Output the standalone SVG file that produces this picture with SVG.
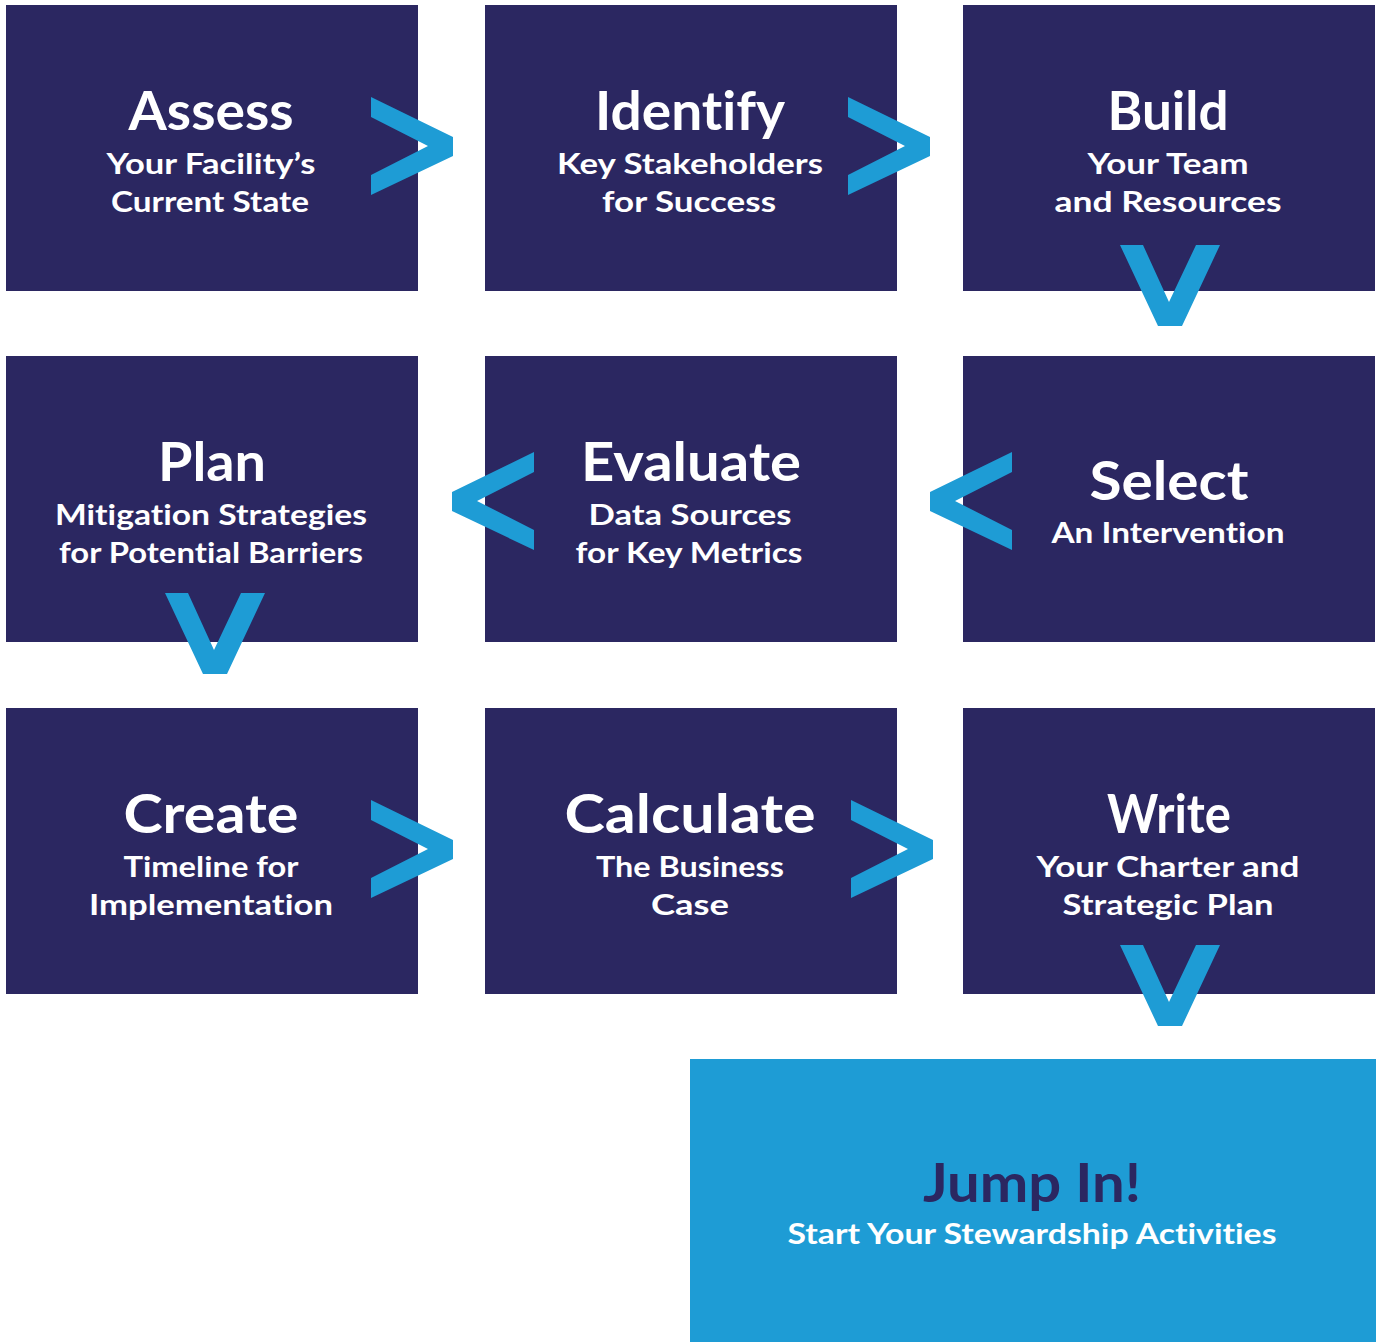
<svg xmlns="http://www.w3.org/2000/svg" xmlns:xlink="http://www.w3.org/1999/xlink" width="1376" height="1342" viewBox="0 0 1376 1342">
<style>
.box{fill:#2b2761}
.jump{fill:#1e9cd5}
.chev{fill:#1e9cd5}
text{font-family:Lato,"Liberation Sans",sans-serif;font-weight:bold;text-anchor:middle;font-variant-ligatures:none;font-feature-settings:"liga" 0,"dlig" 0}
.t{font-size:53px;fill:#ffffff}
.s{font-size:28px;fill:#ffffff}
.jt{font-size:54px;fill:#2b2761}
.js{font-size:29px;fill:#ffffff}
</style>
<defs>
<polygon id="chev-r" class="chev" points="0,0 82,40 82,59 0,98 0,78 57,49 0,20"/>
<polygon id="chev-l" class="chev" points="82,0 0,40 0,59 82,98 82,78 25,49 82,20"/>
<polygon id="chev-d" class="chev" points="0,0 23,0 49,57 76,0 100,0 62,81 38,81"/>
</defs>
<rect width="1376" height="1342" fill="#ffffff"/>
<g id="assess"><rect class="box" x="6" y="5" width="412" height="286"/>
<text class="t" x="211" y="130" textLength="165" lengthAdjust="spacingAndGlyphs">Assess</text>
<text class="s" x="211" y="174" textLength="209" lengthAdjust="spacingAndGlyphs">Your Facility’s</text>
<text class="s" x="210" y="212" textLength="198" lengthAdjust="spacingAndGlyphs">Current State</text></g>
<g id="identify"><rect class="box" x="485" y="5" width="412" height="286"/>
<text class="t" x="690" y="130" textLength="190" lengthAdjust="spacingAndGlyphs">Identify</text>
<text class="s" x="690" y="174" textLength="266" lengthAdjust="spacingAndGlyphs">Key Stakeholders</text>
<text class="s" x="689" y="212" textLength="174" lengthAdjust="spacingAndGlyphs">for Success</text></g>
<g id="build"><rect class="box" x="963" y="5" width="412" height="286"/>
<text class="t" x="1168" y="130" textLength="121" lengthAdjust="spacingAndGlyphs">Build</text>
<text class="s" x="1168" y="174" textLength="161" lengthAdjust="spacingAndGlyphs">Your Team</text>
<text class="s" x="1168" y="212" textLength="227" lengthAdjust="spacingAndGlyphs">and Resources</text></g>
<g id="plan"><rect class="box" x="6" y="356" width="412" height="286"/>
<text class="t" x="212" y="481" textLength="108" lengthAdjust="spacingAndGlyphs">Plan</text>
<text class="s" x="211" y="525" textLength="312" lengthAdjust="spacingAndGlyphs">Mitigation Strategies</text>
<text class="s" x="211" y="563" textLength="304" lengthAdjust="spacingAndGlyphs">for Potential Barriers</text></g>
<g id="evaluate"><rect class="box" x="485" y="356" width="412" height="286"/>
<text class="t" x="691" y="481" textLength="220" lengthAdjust="spacingAndGlyphs">Evaluate</text>
<text class="s" x="690" y="525" textLength="203" lengthAdjust="spacingAndGlyphs">Data Sources</text>
<text class="s" x="689" y="563" textLength="227" lengthAdjust="spacingAndGlyphs">for Key Metrics</text></g>
<g id="select"><rect class="box" x="963" y="356" width="412" height="286"/>
<text class="t" x="1169" y="500" textLength="159" lengthAdjust="spacingAndGlyphs">Select</text>
<text class="s" x="1168" y="543" textLength="233" lengthAdjust="spacingAndGlyphs">An Intervention</text></g>
<g id="create"><rect class="box" x="6" y="708" width="412" height="286"/>
<text class="t" x="211" y="833" textLength="175" lengthAdjust="spacingAndGlyphs">Create</text>
<text class="s" x="211" y="877" textLength="175" lengthAdjust="spacingAndGlyphs">Timeline for</text>
<text class="s" x="211" y="915" textLength="244" lengthAdjust="spacingAndGlyphs">Implementation</text></g>
<g id="calculate"><rect class="box" x="485" y="708" width="412" height="286"/>
<text class="t" x="690" y="833" textLength="251" lengthAdjust="spacingAndGlyphs">Calculate</text>
<text class="s" x="690" y="877" textLength="188" lengthAdjust="spacingAndGlyphs">The Business</text>
<text class="s" x="690" y="915" textLength="78" lengthAdjust="spacingAndGlyphs">Case</text></g>
<g id="write"><rect class="box" x="963" y="708" width="412" height="286"/>
<text class="t" x="1169" y="833" textLength="124" lengthAdjust="spacingAndGlyphs">Write</text>
<text class="s" x="1168" y="877" textLength="263" lengthAdjust="spacingAndGlyphs">Your Charter and</text>
<text class="s" x="1168" y="915" textLength="211" lengthAdjust="spacingAndGlyphs">Strategic Plan</text></g>
<g id="jump-in"><rect class="jump" x="690" y="1059" width="686" height="283"/>
<text class="jt" x="1032" y="1202" textLength="218" lengthAdjust="spacingAndGlyphs">Jump In!</text>
<text class="js" x="1032" y="1244" textLength="489" lengthAdjust="spacingAndGlyphs">Start Your Stewardship Activities</text></g>
<g id="connectors">
<use xlink:href="#chev-r" x="371" y="97"/>
<use xlink:href="#chev-r" x="848" y="97"/>
<use xlink:href="#chev-d" x="1120" y="245"/>
<use xlink:href="#chev-l" x="930" y="452"/>
<use xlink:href="#chev-l" x="452" y="452"/>
<use xlink:href="#chev-d" x="165" y="593"/>
<use xlink:href="#chev-r" x="371" y="800"/>
<use xlink:href="#chev-r" x="851" y="800"/>
<use xlink:href="#chev-d" x="1120" y="945"/>
</g>
</svg>
